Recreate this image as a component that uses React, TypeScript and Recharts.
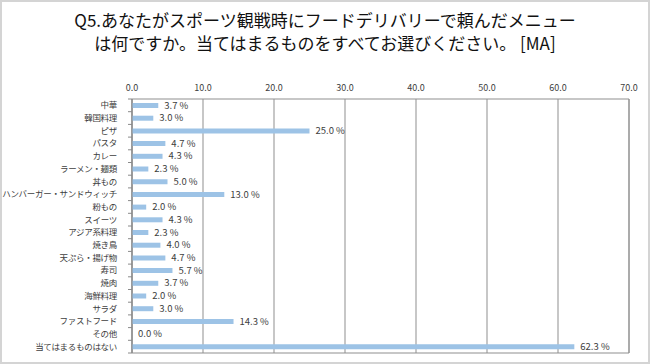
import { ComposedChart, Bar, Scatter, XAxis, YAxis, CartesianGrid, ReferenceArea } from "recharts";

const categories = [
  "中華",
  "韓国料理",
  "ピザ",
  "パスタ",
  "カレー",
  "ラーメン・麺類",
  "丼もの",
  "ハンバーガー・サンドウィッチ",
  "粉もの",
  "スイーツ",
  "アジア系料理",
  "焼き鳥",
  "天ぷら・揚げ物",
  "寿司",
  "焼肉",
  "海鮮料理",
  "サラダ",
  "ファストフード",
  "その他",
  "当てはまるものはない",
];

const values = [3.7, 3.0, 25.0, 4.7, 4.3, 2.3, 5.0, 13.0, 2.0, 4.3, 2.3, 4.0, 4.7, 5.7, 3.7, 2.0, 3.0, 14.3, 0.0, 62.3];

const xTicks = [0, 10, 20, 30, 40, 50, 60, 70];

const data = categories.map((name, i) => ({ name, value: values[i] }));

const font = '"Noto Sans CJK JP", "Noto Sans", sans-serif';
const axisWidth = 132;

// value text drawn at the bar end (scatter point), so the 0.0 row gets one too
const renderValue = (props: any) => {
  const { cx, cy, payload } = props;
  return (
    <text x={Number(cx) + 6} y={Number(cy)} dy="0.35em" fontSize={9.5} fill="#404040" fontFamily={font}>
      {`${Number(payload.value).toFixed(1)} %`}
    </text>
  );
};

// category label + small excel-style tick marks between the bands
const CategoryTick = (props: any) => {
  const { x, y, payload, index } = props;
  const half = Number(payload?.offset) || 6.35;
  const ax = axisWidth;
  return (
    <g>
      <line x1={ax - 4} x2={ax} y1={y - half} y2={y - half} stroke="#8a8a8a" />
      {index === categories.length - 1 && (
        <line x1={ax - 4} x2={ax} y1={y + half} y2={y + half} stroke="#8a8a8a" />
      )}
      <text
        x={x}
        y={y}
        dy="0.35em"
        textAnchor="end"
        fontSize={8.5}
        fill="#404040"
        fontFamily={font}
        letterSpacing={-0.3}
      >
        {payload.value}
      </text>
    </g>
  );
};

export default function App() {
  return (
    <div
      style={{
        position: "absolute",
        top: 0,
        left: 0,
        width: 650,
        height: 364,
        background: "#fff",
        fontFamily: font,
      }}
    >
      <div
        style={{
          position: "absolute",
          inset: 0,
          border: "2px solid #d4d4d4",
          boxSizing: "border-box",
          pointerEvents: "none",
        }}
      />
      <div
        style={{
          position: "absolute",
          top: 8,
          left: 0,
          width: 650,
          textAlign: "center",
          fontSize: 17,
          lineHeight: "23px",
          color: "#111",
        }}
      >
        <div>Q5.あなたがスポーツ観戦時にフードデリバリーで頼んだメニュー</div>
        <div>は何ですか。当てはまるものをすべてお選びください。 [MA]</div>
      </div>
      <ComposedChart
        width={650}
        height={364}
        data={data}
        layout="vertical"
        margin={{ top: 69, right: 21, bottom: 11, left: 0 }}
        style={{ position: "absolute", top: 0, left: 0 }}
      >
        <CartesianGrid horizontal={false} vertical stroke="#8f8f8f" />
        <ReferenceArea x1={0} x2={70} fill="none" stroke="#8f8f8f" strokeWidth={1} ifOverflow="visible" />
        <XAxis
          type="number"
          dataKey="value"
          orientation="top"
          domain={[0, 70]}
          ticks={xTicks}
          tickFormatter={(v: number) => v.toFixed(1)}
          axisLine={false}
          tickLine={false}
          tick={{ fontSize: 9, fill: "#404040", fontFamily: font }}
          interval={0}
          height={30}
        />
        <YAxis
          type="category"
          dataKey="name"
          width={axisWidth}
          interval={0}
          axisLine={{ stroke: "#8a8a8a" }}
          tickLine={false}
          tickMargin={9}
          tick={<CategoryTick />}
        />
        <Bar dataKey="value" fill="#9dc3e6" barSize={5} isAnimationActive={false} />
        <Scatter dataKey="value" shape={renderValue} isAnimationActive={false} />
      </ComposedChart>
    </div>
  );
}
